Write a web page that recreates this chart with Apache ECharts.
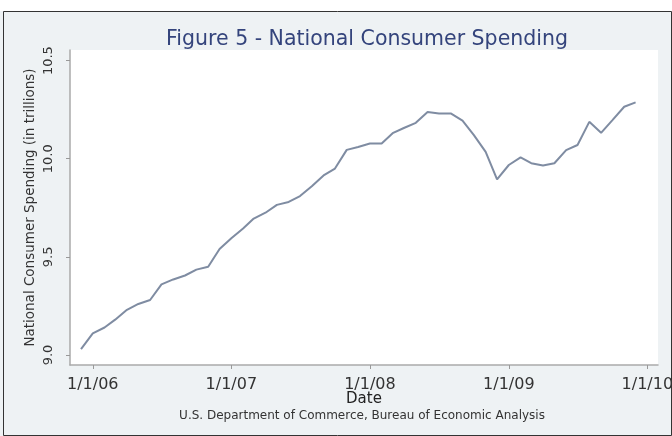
<!DOCTYPE html>
<html>
<head>
<meta charset="utf-8">
<script src="https://cdn.jsdelivr.net/npm/echarts@6/dist/echarts.min.js"></script>
<style>
  html, body { margin: 0; padding: 0; background: #fff; }
  #chart { width: 672px; height: 436px; }
</style>
</head>
<body>
<div id="chart"></div>
<script>
// monthly spending, trillions of dollars
const months = [
  '2005-12',
  '2006-01', '2006-02', '2006-03', '2006-04', '2006-05', '2006-06',
  '2006-07', '2006-08', '2006-09', '2006-10', '2006-11', '2006-12',
  '2007-01', '2007-02', '2007-03', '2007-04', '2007-05', '2007-06',
  '2007-07', '2007-08', '2007-09', '2007-10', '2007-11', '2007-12',
  '2008-01', '2008-02', '2008-03', '2008-04', '2008-05', '2008-06',
  '2008-07', '2008-08', '2008-09', '2008-10', '2008-11', '2008-12',
  '2009-01', '2009-02', '2009-03', '2009-04', '2009-05', '2009-06',
  '2009-07', '2009-08', '2009-09', '2009-10', '2009-11', '2009-12'
]
const spending = [
  9.03,
  9.11, 9.14, 9.18, 9.23, 9.26, 9.28,
  9.36, 9.385, 9.405, 9.435, 9.45, 9.54,
  9.595, 9.645, 9.695, 9.725, 9.765, 9.78,
  9.81, 9.86, 9.915, 9.95, 10.045, 10.06,
  10.078, 10.078, 10.13, 10.158, 10.183, 10.238,
  10.231, 10.231, 10.194, 10.12, 10.035, 9.895,
  9.968, 10.007, 9.977, 9.965, 9.977, 10.044,
  10.07, 10.188, 10.132, 10.197, 10.265, 10.287
]
const yTicks = [9.0, 9.5, 10.0, 10.5]
const xTicks = ['2006-01-01', '2007-01-01', '2008-01-01', '2009-01-01', '2010-01-01']

const toTime = s => new Date(s + 'T00:00:00Z').getTime()
const xTickTimes = xTicks.map(toTime)
const seriesData = months.map((m, i) => [toTime(m + '-01'), spending[i]])

const chart = echarts.init(document.getElementById('chart'))

chart.setOption({
  backgroundColor: '#eef2f4',
  animation: false,
  graphic: [
    { type: 'rect', shape: { x: 0, y: 0, width: 672, height: 11 }, style: { fill: '#ffffff' }, z: -1 },
    { type: 'rect', shape: { x: 3.5, y: 11.5, width: 668, height: 424 }, style: { fill: 'none', stroke: '#333', lineWidth: 1 }, z: -1 },
    {
      type: 'text', x: 362, y: 416,
      style: {
        text: 'U.S. Department of Commerce, Bureau of Economic Analysis',
        fill: '#333', font: '12px "DejaVu Sans"', align: 'center', verticalAlign: 'middle'
      }
    }
  ],
  title: {
    text: 'Figure 5 - National Consumer Spending',
    left: 362,
    textAlign: 'center',
    top: 24,
    textStyle: { color: '#34447c', fontFamily: 'DejaVu Sans', fontSize: 20.5, fontWeight: 'normal' }
  },
  grid: {
    left: 70, right: 14, top: 50, bottom: 71,
    outerBoundsMode: 'none',
    show: true, backgroundColor: '#fff', borderWidth: 0
  },
  xAxis: {
    type: 'value',
    min: toTime('2005-11-02'),
    max: toTime('2010-01-29'),
    name: 'Date',
    nameLocation: 'middle',
    nameGap: 27,
    nameMoveOverlap: false,
    nameTextStyle: { color: '#222', fontFamily: 'DejaVu Sans', fontSize: 15 },
    axisLine: { lineStyle: { color: '#aaa', width: 1.5 } },
    axisTick: { show: true, length: 4, lineStyle: { color: '#999' }, customValues: xTickTimes },
    axisLabel: {
      color: '#333', fontFamily: 'DejaVu Sans', fontSize: 16,
      margin: 12,
      customValues: xTickTimes,
      formatter: v => {
        const d = new Date(v)
        return (d.getUTCMonth() + 1) + '/' + d.getUTCDate() + '/' + String(d.getUTCFullYear()).slice(2)
      }
    },
    splitLine: { show: false }
  },
  yAxis: {
    type: 'value',
    min: 8.949,
    max: 10.554,
    name: 'National Consumer Spending (in trillions)',
    nameLocation: 'middle',
    nameGap: 33,
    nameMoveOverlap: false,
    nameRotate: 90,
    nameTextStyle: { color: '#333', fontFamily: 'DejaVu Sans', fontSize: 13.5 },
    axisLine: { show: true, lineStyle: { color: '#aaa', width: 1.5 } },
    axisTick: { show: true, length: 4, lineStyle: { color: '#999' }, customValues: yTicks },
    axisLabel: {
      color: '#333', fontFamily: 'DejaVu Sans', fontSize: 13,
      rotate: 90,
      margin: 15,
      customValues: yTicks,
      formatter: v => v.toFixed(1)
    },
    splitLine: { show: false }
  },
  series: [{
    type: 'line',
    data: seriesData,
    showSymbol: false,
    lineStyle: { color: '#7f8ca2', width: 2 }
  }]
})
</script>
</body>
</html>
